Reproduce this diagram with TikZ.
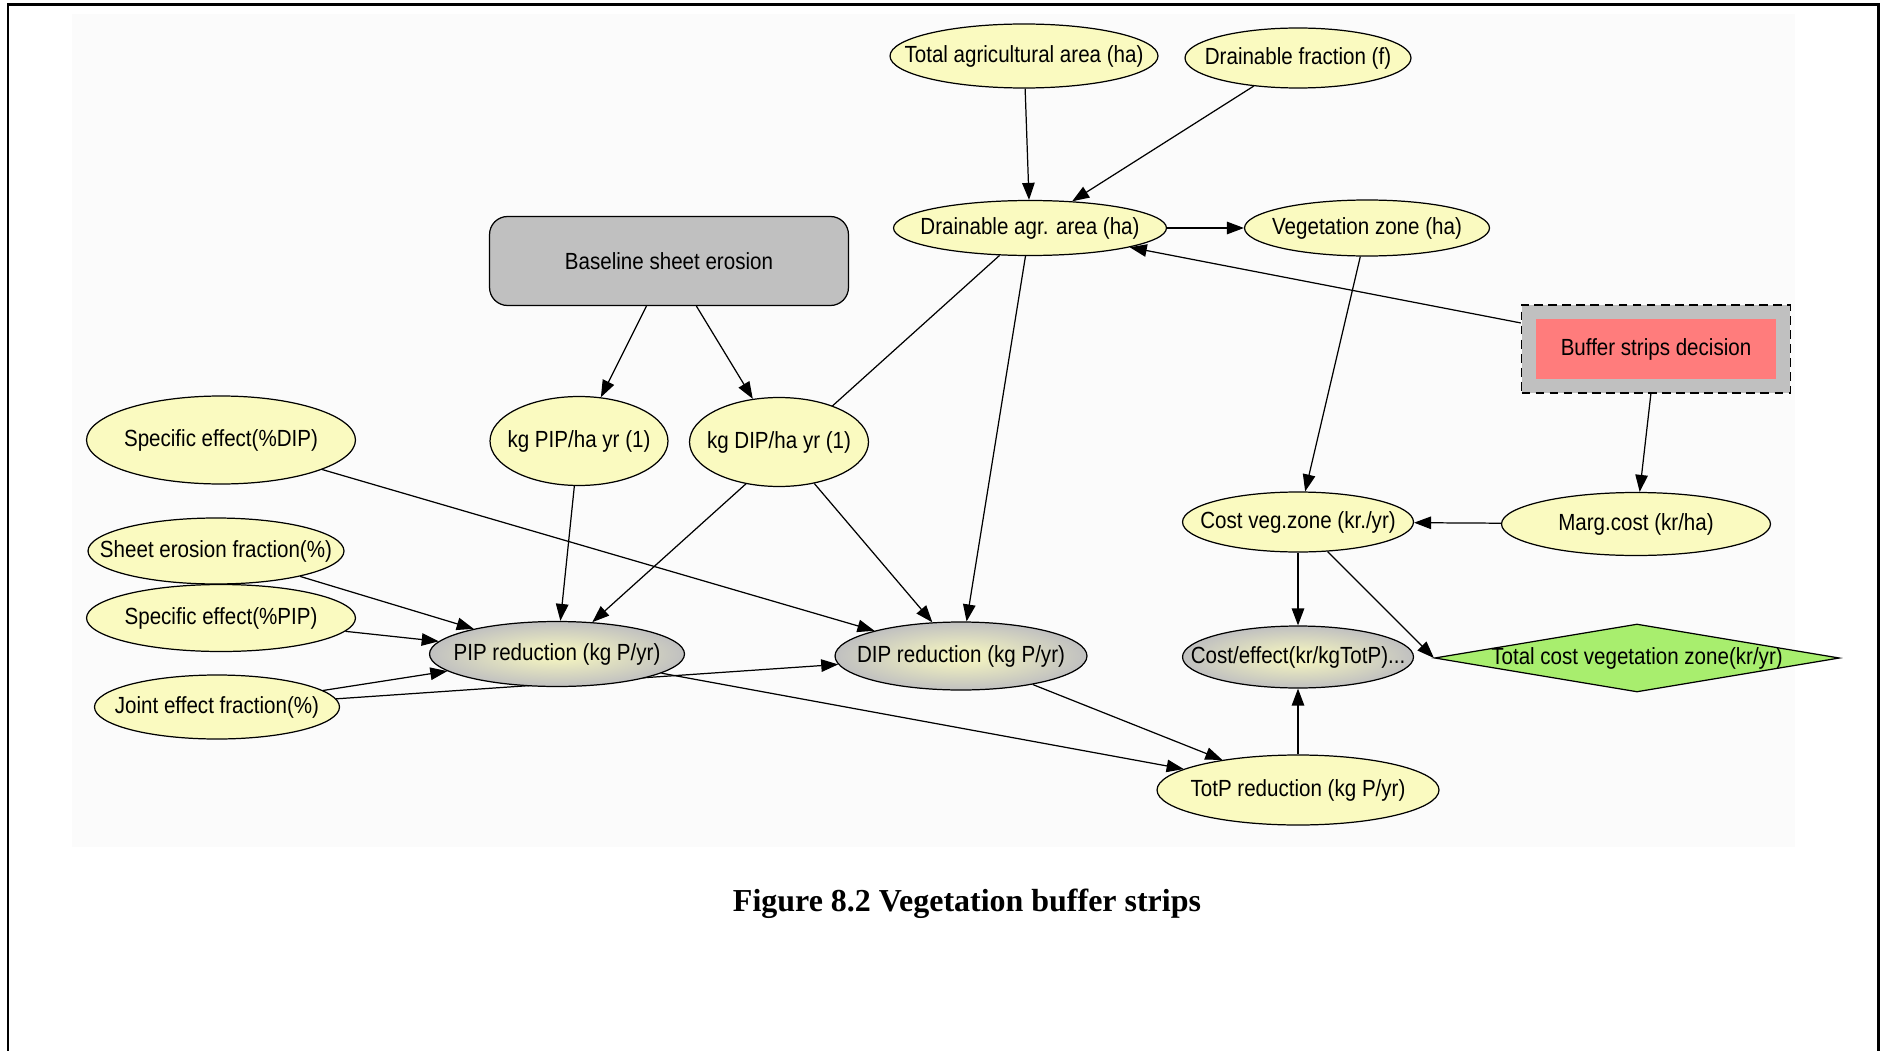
\documentclass[tikz,border=0pt]{standalone}
\usepackage{fontspec}
\setmainfont{Liberation Sans}
\newfontfamily\netfont[FakeStretch=0.88]{Liberation Sans}
\newfontfamily\capfont{Liberation Serif}
\usetikzlibrary{shapes.geometric, arrows.meta}

\definecolor{nodeyellow}{RGB}{250,250,192}
\definecolor{nodegray}{RGB}{192,192,192}
\definecolor{decisionred}{RGB}{255,124,124}
\definecolor{utilgreen}{RGB}{168,238,110}

\pgfdeclarelayer{backdrop}
\pgfdeclarelayer{edges}
\pgfsetlayers{backdrop,edges,main}

% node text that does not widen its ellipse
\newcommand{\ntext}[1]{\makebox[0pt]{#1}}

\begin{document}
\begin{tikzpicture}[
    x=0.02cm, y=-0.02cm,
    chance/.style={
        draw,
        ellipse,
        fill=nodeyellow,
        inner sep=0pt,
        line width=0.7pt,
        font=\netfont\fontsize{13.3pt}{15pt}\selectfont
    },
    result/.style={
        chance,
        inner color=nodeyellow,
        outer color=nodegray
    },
    erosion/.style={
        draw,
        rounded corners=0.36cm,
        fill=nodegray,
        line width=0.7pt,
        minimum width=7.18cm,
        minimum height=1.78cm,
        font=\netfont\fontsize{13.3pt}{15pt}\selectfont
    },
    decision/.style={
        draw,
        dash pattern=on 5pt off 3pt,
        fill=nodegray,
        line width=0.8pt,
        minimum width=5.38cm,
        minimum height=1.76cm,
        font=\netfont\fontsize{13.3pt}{15pt}\selectfont,
        path picture={
            \fill[decisionred]
                ([shift={(0.29cm,-0.28cm)}]path picture bounding box.north west)
                rectangle
                ([shift={(-0.29cm,0.28cm)}]path picture bounding box.south east);
        }
    },
    utility/.style={
        draw,
        diamond,
        fill=utilgreen,
        inner sep=0pt,
        line width=0.7pt,
        minimum width=8.1cm,
        minimum height=1.36cm,
        font=\netfont\fontsize{13.3pt}{15pt}\selectfont
    },
    link/.style={
        -{Triangle[length=0.34cm, width=0.25cm]},
        line width=0.7pt
    }
]

\useasboundingbox (0,0) rectangle (1883,1051);
\begin{pgfonlayer}{backdrop}
\fill[black!1.5] (72,14) rectangle (1795,847);
\end{pgfonlayer}
\draw[line width=0.06cm] (8,1051) -- (8,5) -- (1878,5) -- (1878,1051);

% top of the network
\node[chance, minimum width=5.36cm, minimum height=1.28cm] (totagr) at (1024,56) {\ntext{Total agricultural area (ha)}};
\node[chance, minimum width=4.52cm, minimum height=1.2cm] (drainfrac) at (1298,58) {\ntext{Drainable fraction (f)}};
\node[chance, minimum width=5.46cm, minimum height=1.1cm] (drainagr) at (1030,228) {\ntext{Drainable agr. area (ha)}};
\node[chance, minimum width=4.9cm, minimum height=1.12cm] (vegzone) at (1367,228) {\ntext{Vegetation zone (ha)}};
\node[erosion] (baseline) at (669,261) {Baseline sheet erosion};
\node[decision] (buffer) at (1656,349) {Buffer strips decision};

% loads and effects
\node[chance, minimum width=5.38cm, minimum height=1.76cm] (speceffdip) at (221,440) {\ntext{Specific effect(\%DIP)}};
\node[chance, minimum width=3.56cm, minimum height=1.78cm] (kgpip) at (579,441) {\ntext{kg PIP/ha yr (1)}};
\node[chance, minimum width=3.58cm, minimum height=1.78cm] (kgdip) at (779,442) {\ntext{kg DIP/ha yr (1)}};
\node[chance, minimum width=4.62cm, minimum height=1.2cm] (costveg) at (1298,522) {\ntext{Cost veg.zone (kr./yr)}};
\node[chance, minimum width=5.38cm, minimum height=1.26cm] (margcost) at (1636,524) {\ntext{Marg.cost (kr/ha)}};
\node[chance, minimum width=5.12cm, minimum height=1.32cm] (sheetfrac) at (216,551) {\ntext{Sheet erosion fraction(\%)}};
\node[chance, minimum width=5.38cm, minimum height=1.34cm] (speceffpip) at (221,618) {\ntext{Specific effect(\%PIP)}};
\node[chance, minimum width=4.9cm, minimum height=1.28cm] (jointfrac) at (217,707) {\ntext{Joint effect fraction(\%)}};

% reductions and costs
\node[result, minimum width=5.1cm, minimum height=1.3cm] (pipred) at (557,654) {\ntext{PIP reduction (kg P/yr)}};
\node[result, minimum width=5.04cm, minimum height=1.36cm] (dipred) at (961,656) {\ntext{DIP reduction (kg P/yr)}};
\node[result, minimum width=4.62cm, minimum height=1.24cm] (costeff) at (1298,657) {\ntext{Cost/effect(kr/kgTotP)...}};
\node[utility] (totcost) at (1637,658) {\ntext{Total cost vegetation zone(kr/yr)}};
\node[chance, minimum width=5.64cm, minimum height=1.4cm] (totpred) at (1298,790) {\ntext{TotP reduction (kg P/yr)}};

\node[font=\capfont\bfseries\fontsize{18.2pt}{20pt}\selectfont] (caption) at (967,904) {Figure 8.2 Vegetation buffer strips};

\begin{pgfonlayer}{edges}
\draw[link] (totagr) -- (drainagr);
\draw[link] (drainfrac) -- (drainagr);
\draw[link] (drainagr) -- (vegzone);
\draw[link] (buffer) -- (drainagr);
\draw[link] (vegzone) -- (costveg);
\draw[link] (buffer) -- (margcost);
\draw[link] (margcost) -- (costveg);
\draw[link] (costveg) -- (costeff);
\draw[link] (costveg) -- (totcost.west);
\draw[link] (totpred) -- (costeff);
\draw[link] (baseline) -- (kgpip);
\draw[link] (baseline) -- (kgdip);
\draw[link] (drainagr) -- (pipred);
\draw[link] (drainagr) -- (dipred);
\draw[link] (kgpip) -- (pipred);
\draw[link] (kgdip) -- (dipred);
\draw[link] (speceffdip) -- (dipred);
\draw[link] (sheetfrac) -- (pipred);
\draw[link] (speceffpip) -- (pipred);
\draw[link] (jointfrac) -- (pipred);
\draw[link] (jointfrac) -- (dipred);
\draw[link] (pipred) -- (totpred);
\draw[link] (dipred) -- (totpred);
\end{pgfonlayer}

\end{tikzpicture}
\end{document}
